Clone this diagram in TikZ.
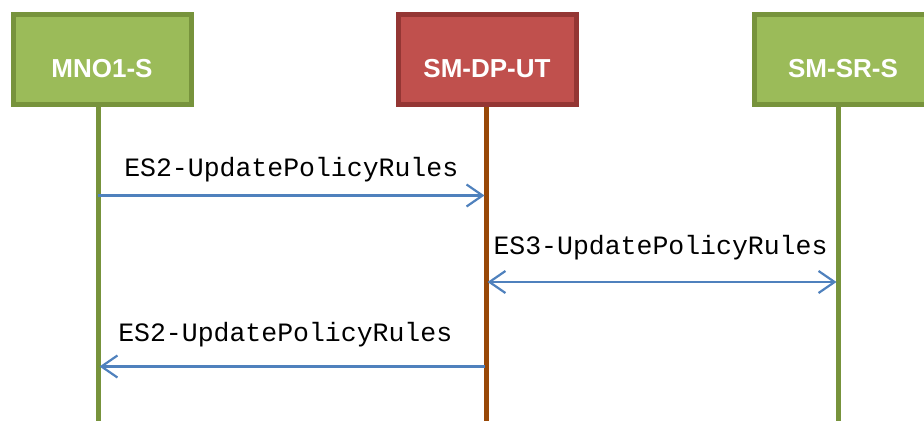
\documentclass[tikz,border=0pt]{standalone}
\usepackage{fontspec}
\setmainfont{Liberation Sans}
\setmonofont{Liberation Mono}
\usetikzlibrary{arrows.meta}

\definecolor{greenfill}{HTML}{9BBB59}
\definecolor{greenline}{HTML}{77933C}
\definecolor{redfill}{HTML}{C0504D}
\definecolor{redline}{HTML}{943634}
\definecolor{brownline}{HTML}{984807}
\definecolor{msgblue}{HTML}{4F81BD}

\tikzset{
	entity/.style={shape=rectangle,line width=5pt,minimum width=178pt,minimum height=90pt,
		text height=36pt,text depth=0pt,
		text=white,font=\fontsize{26}{30}\selectfont\bfseries},
	lifeline/.style={line width=5pt},
	msg/.style={draw=msgblue,line width=2.2pt},
	msglabel/.style={font=\ttfamily\fontsize{26.5}{30}\selectfont,text=black,anchor=base,inner sep=0pt},
	>={Straight Barb[length=16pt,width=22pt]}
}

\begin{document}
\begin{tikzpicture}[x=1pt,y=-1pt]
	\useasboundingbox (0,0) rectangle (924,421);

	\node[entity,draw=greenline,fill=greenfill] (mno) at (102, 59.5)  {MNO1-S};
	\node[entity,draw=redline,fill=redfill]     (dp)  at (487, 59.5)  {SM-DP-UT};
	\node[entity,draw=greenline,fill=greenfill] (sr)  at (843, 59.5)  {SM-SR-S};

	\coordinate (mnotop) at (98, 107);
	\coordinate (mnobot) at (98, 421);
	\coordinate (dptop)  at (486, 107);
	\coordinate (dpbot)  at (486, 421);
	\coordinate (srtop)  at (838, 107);
	\coordinate (srbot)  at (838, 421);

	\path (mnotop) edge[lifeline,draw=greenline] (mnobot);
	\path (dptop) edge[lifeline,draw=brownline] (dpbot);
	\path (srtop) edge[lifeline,draw=greenline] (srbot);

	\coordinate (m1) at (98, 195.5);
	\coordinate (d1) at (484.5, 195.5);
	\coordinate (d2) at (487.5, 282);
	\coordinate (s2) at (836.5, 282);
	\coordinate (d3) at (485, 366.5);
	\coordinate (m3) at (99.5, 366.5);

	\path (m1) edge[msg,->] node[msglabel,yshift=19pt]{ES2-UpdatePolicyRules} (d1);
	\path (d2) edge[msg,<->] node[msglabel,yshift=28pt,xshift=-1.5pt]{ES3-UpdatePolicyRules} (s2);
	\path (d3) edge[msg,->] node[msglabel,yshift=25pt,xshift=-7pt]{ES2-UpdatePolicyRules} (m3);

\end{tikzpicture}
\end{document}
